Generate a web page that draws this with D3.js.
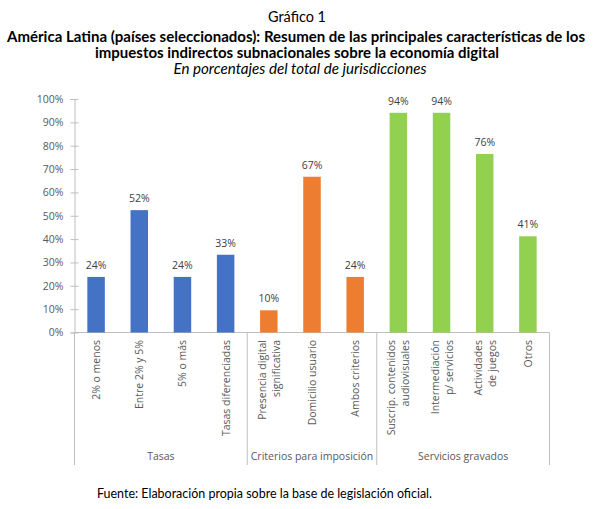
<!DOCTYPE html>
<html>
<head>
<meta charset="utf-8">
<script src="https://cdn.jsdelivr.net/npm/d3@7"></script>
<style>
  html, body { margin: 0; padding: 0; background: #fff; }
  svg { display: block; }
</style>
</head>
<body>
<svg id="chart" width="601" height="509"></svg>
<script>
// ---- Data ----
const categories = [
  ["2% o menos"],
  ["Entre 2% y 5%"],
  ["5% o más"],
  ["Tasas diferenciadas"],
  ["Presencia digital", "significativa"],
  ["Domicilio usuario"],
  ["Ambos criterios"],
  ["Suscrip. contenidos", "audiovisuales"],
  ["Intermediación", "p/ servicios"],
  ["Actividades", "de juegos"],
  ["Otros"]
];
const values = [0.238, 0.524, 0.238, 0.333, 0.095, 0.667, 0.238, 0.941, 0.941, 0.7647, 0.412];
const groups = ["Tasas", "Tasas", "Tasas", "Tasas",
  "Criterios para imposición", "Criterios para imposición", "Criterios para imposición",
  "Servicios gravados", "Servicios gravados", "Servicios gravados", "Servicios gravados"];
const groupNames = ["Tasas", "Criterios para imposición", "Servicios gravados"];
const groupColors = ["#4472C4", "#ED7D31", "#92D050"];
const yTicks = [0, 0.1, 0.2, 0.3, 0.4, 0.5, 0.6, 0.7, 0.8, 0.9, 1.0];

const titleLines = [
  "Gráfico 1",
  "América Latina (países seleccionados): Resumen de las principales características de los",
  "impuestos indirectos subnacionales sobre la economía digital",
  "En porcentajes del total de jurisdicciones"
];
const source = "Fuente: Elaboración propia sobre la base de legislación oficial.";

// ---- Layout ----
const svg = d3.select("#chart");
const x0 = 74.5, x1 = 549.5, yBottom = 332.5, yTop = 99;
const axisColor = "#BFBFBF", textColor = "#595959";
const font = "'Open Sans', sans-serif";

const idx = d3.range(values.length);
const x = d3.scaleBand().domain(idx).range([x0, x1]).paddingInner(0.595).paddingOuter(0.2975);
const y = d3.scaleLinear().domain([0, 1]).range([yBottom, yTop]);
const color = d3.scaleOrdinal().domain(groupNames).range(groupColors);

// Title
const tl = [
  {t: titleLines[0], yy: 22, w: 58, weight: "normal", style: "normal", cx: 297},
  {t: titleLines[1], yy: 41.5, w: 578, weight: "bold", style: "normal", cx: 296},
  {t: titleLines[2], yy: 57.5, w: 404, weight: "bold", style: "normal", cx: 297},
  {t: titleLines[3], yy: 73.5, w: 253, weight: "normal", style: "italic", cx: 300}
];
svg.selectAll("text.title").data(tl).enter().append("text")
  .attr("class", "title")
  .attr("x", d => d.cx).attr("y", d => d.yy)
  .attr("text-anchor", "middle")
  .attr("font-family", "Lato, 'Liberation Sans', sans-serif")
  .attr("font-size", 14.5)
  .attr("font-weight", d => d.weight)
  .attr("font-style", d => d.style)
  .attr("fill", "#000")
  .attr("textLength", d => d.w)
  .attr("lengthAdjust", "spacingAndGlyphs")
  .text(d => d.t);

// Y axis
const yAxis = d3.axisLeft(y).tickValues(yTicks).tickFormat(d3.format(".0%")).tickSize(4).tickPadding(7);
const gy = svg.append("g").attr("transform", `translate(${x0},0)`).call(yAxis);
gy.select(".domain").attr("stroke", axisColor);
gy.selectAll(".tick line").attr("stroke", axisColor).attr("x1", 4).attr("x2", -4);
gy.selectAll(".tick text").attr("fill", textColor).attr("font-family", font).attr("font-size", 10.5);

// X axis baseline
svg.append("line").attr("x1", x0).attr("x2", x1).attr("y1", yBottom).attr("y2", yBottom)
  .attr("stroke", axisColor);

// Group separators
const step = x.step();
const bounds = [0, 4, 7, 11].map(i => x0 + i * step);
svg.selectAll("line.sep").data(bounds).enter().append("line")
  .attr("class", "sep")
  .attr("x1", d => d).attr("x2", d => d)
  .attr("y1", yBottom).attr("y2", 465)
  .attr("stroke", axisColor);

// Bars
svg.selectAll("rect.bar").data(idx).enter().append("rect")
  .attr("class", "bar")
  .attr("x", i => x(i)).attr("width", x.bandwidth())
  .attr("y", i => y(values[i])).attr("height", i => y(0) - y(values[i]))
  .attr("fill", i => color(groups[i]));

// Value labels
svg.selectAll("text.val").data(idx).enter().append("text")
  .attr("class", "val")
  .attr("x", i => x(i) + x.bandwidth() / 2)
  .attr("y", i => y(values[i]) - 8)
  .attr("text-anchor", "middle")
  .attr("font-family", font).attr("font-size", 10.5)
  .attr("fill", "#404040")
  .text(i => d3.format(".0%")(values[i]));

// Category labels (rotated)
const catG = svg.selectAll("g.cat").data(idx).enter().append("g")
  .attr("class", "cat")
  .attr("transform", i => `translate(${x(i) + x.bandwidth() / 2},340) rotate(-90)`);
catG.each(function(i) {
  const lines = categories[i];
  const n = lines.length;
  const lh = 14;
  d3.select(this).selectAll("text").data(lines).enter().append("text")
    .attr("x", 0)
    .attr("y", (d, k) => (k - (n - 1) / 2) * lh + 4)
    .attr("text-anchor", "end")
    .attr("font-family", font).attr("font-size", 10.5)
    .attr("fill", textColor)
    .text(d => d);
});

// Group labels
const groupPos = groupNames.map((g, k) => ({name: g, cx: (bounds[k] + bounds[k + 1]) / 2}));
svg.selectAll("text.grp").data(groupPos).enter().append("text")
  .attr("class", "grp")
  .attr("x", d => d.cx).attr("y", 460)
  .attr("text-anchor", "middle")
  .attr("font-family", font).attr("font-size", 10.5)
  .attr("fill", textColor)
  .text(d => d.name);

// Source
svg.append("text")
  .attr("x", 97).attr("y", 498)
  .attr("font-family", "Lato, 'Liberation Sans', sans-serif")
  .attr("font-size", 12.5)
  .attr("fill", "#000")
  .attr("textLength", 335)
  .attr("lengthAdjust", "spacingAndGlyphs")
  .text(source);
</script>
</body>
</html>
